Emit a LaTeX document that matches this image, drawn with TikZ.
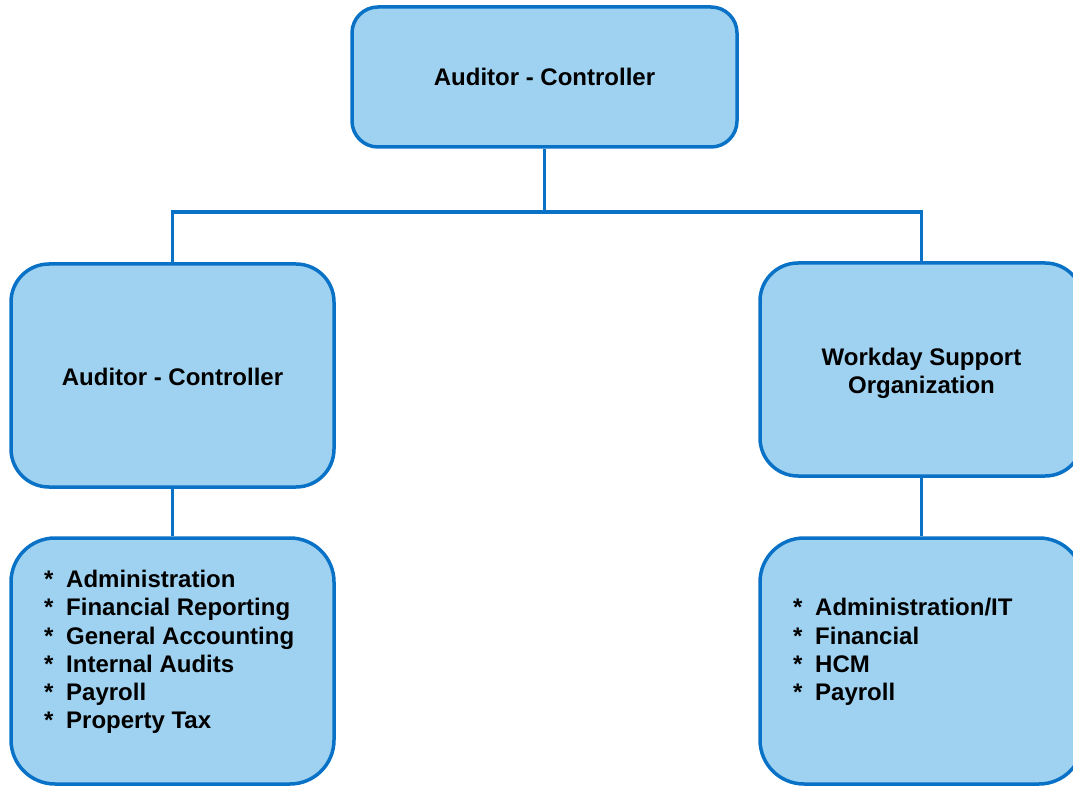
\documentclass[tikz,border=0pt]{standalone}
\usepackage{fontspec}
\setmainfont{Liberation Sans}
\definecolor{boxfill}{HTML}{9ED2F0}
\definecolor{boxline}{HTML}{0A72C6}
\begin{document}
\begin{tikzpicture}[x=1pt,y=-1pt,
  orgbox/.style={draw=boxline, fill=boxfill, line width=3.5pt, rounded corners=#1,
    inner sep=0pt, font=\bfseries\fontsize{24}{28.2}\selectfont, align=center},
  orgbox/.default=38pt,
  link/.style={draw=boxline, line width=3.5pt},
  boxtext/.style={inner sep=0pt, font=\bfseries\fontsize{24}{28.2}\selectfont, align=center},
  listtext/.style={inner sep=0pt, font=\bfseries\fontsize{24}{28.2}\selectfont, align=left, anchor=west}]
  \useasboundingbox (0,0) rectangle (1073,786);
  \clip (0,0) rectangle (1073,786);

  % boxes
  \node[orgbox=26pt, minimum width=385pt, minimum height=140pt] (top) at (544.5,77) {Auditor - Controller};
  \node[orgbox, minimum width=323pt, minimum height=223pt] (lm) at (172.5,375.5) {};
  \node[orgbox, minimum width=323pt, minimum height=213pt] (rm) at (921.5,369.5) {};
  \node[orgbox=44pt, minimum width=323pt, minimum height=246pt] (lb) at (172.5,661) {};
  \node[orgbox=44pt, minimum width=323pt, minimum height=246pt] (rb) at (921.5,661) {};

  % box titles
  \node[boxtext] (lmtext) at ([yshift=-1.5pt]lm.center) {Auditor - Controller};
  \node[boxtext] (rmtext) at ([yshift=-4pt]rm.center) {Workday Support\\Organization};

  % list contents
  \node[listtext] (lbtext) at (44,652) {\makebox[22pt][l]{*}Administration\\
    \makebox[22pt][l]{*}Financial Reporting\\
    \makebox[22pt][l]{*}General Accounting\\
    \makebox[22pt][l]{*}Internal Audits\\
    \makebox[22pt][l]{*}Payroll\\
    \makebox[22pt][l]{*}Property Tax};
  \node[listtext] (rbtext) at (793,652) {\makebox[22pt][l]{*}Administration/IT\\
    \makebox[22pt][l]{*}Financial\\
    \makebox[22pt][l]{*}HCM\\
    \makebox[22pt][l]{*}Payroll};

  % connectors
  \coordinate (bus) at (544.5,212);
  \draw[link] (top.south) -- (bus);
  \draw[link] (lm.north) |- (bus) -| (rm.north);
  \draw[link] (lm.south) -- (lb.north);
  \draw[link] (rm.south) -- (rb.north);
\end{tikzpicture}
\end{document}
